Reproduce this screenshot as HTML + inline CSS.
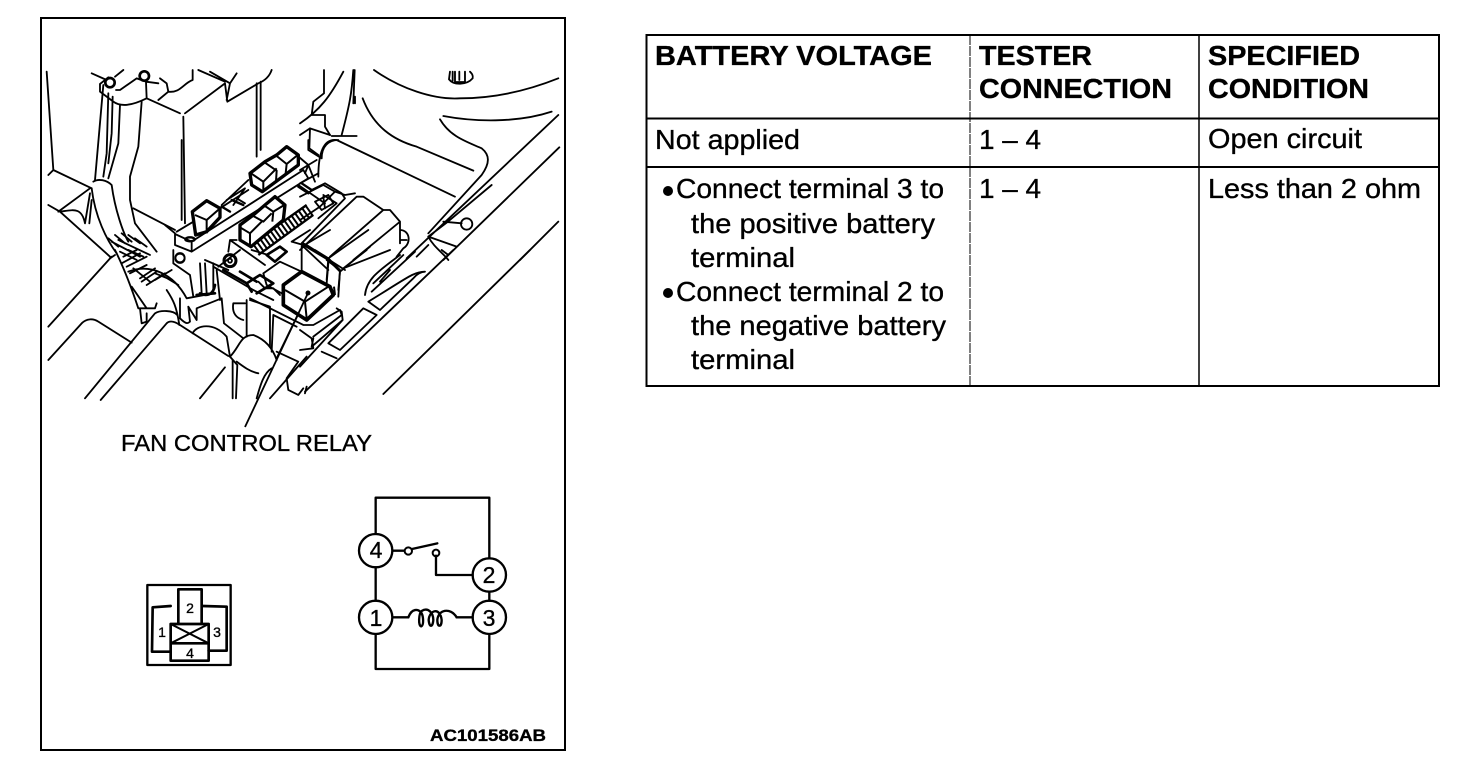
<!DOCTYPE html>
<html><head><meta charset="utf-8"><style>
html,body{margin:0;padding:0;background:#fff;width:1472px;height:784px;overflow:hidden}
svg{display:block}
text{font-family:"Liberation Sans",sans-serif;fill:#000;stroke:#000;stroke-width:.35}
.l path,.l circle,.l ellipse{fill:none;stroke:#000;stroke-width:5.500;stroke-linejoin:round;stroke-linecap:round}
.t path{fill:#fff;stroke:#000;stroke-width:10;stroke-linejoin:round}
.t path.i{fill:none;stroke-width:6}
.h{fill:none;stroke:#000;stroke-width:40;stroke-dasharray:6 7}
</style></head><body>
<svg width="1472" height="784" viewBox="0 0 1472 784" xmlns="http://www.w3.org/2000/svg">
<rect width="1472" height="784" fill="#fff"/>
<rect x="41" y="18" width="524" height="732" fill="none" stroke="#000" stroke-width="2"/>

<!-- upper left -->
<g class="l" transform="translate(40,60) scale(.3333)">
<path d="M20,35 L40,330 L25,345 M40,330 L155,385"/>
<circle cx="210" cy="68" r="14" style="stroke-width:8"/><circle cx="313" cy="48" r="14" style="stroke-width:8"/>
<path d="M155,40 L200,60 M250,30 L225,50 M180,72 L205,52 M180,72 L180,95 L220,125 C240,140 270,140 320,115 L318,65 L290,55 L240,90 L228,90 M318,65 L355,70"/>
<path d="M320,115 L420,160 M355,120 L385,95 L380,70 L360,55 M385,95 C420,100 430,70 458,60 L458,30"/>
<path d="M435,160 L555,70 L562,125 L655,70 C680,60 690,45 695,30 M475,30 L555,65 M510,35 L570,70 L590,40 M570,70 L560,120"/>
<path d="M650,70 L650,290 M662,65 L662,270 M430,170 L435,490 M280,445 L405,510"/>
<path d="M190,75 L165,360 M205,100 L200,280 L190,350 M218,110 L215,220 L205,310 M240,135 L235,250 L205,355 M305,125 L295,260 L270,350 L270,420 L285,490 L350,575"/>
<path d="M160,365 C175,355 200,360 215,375 C225,450 250,520 265,545 M155,385 C165,470 200,540 230,580"/>
<path d="M25,435 L60,455 L210,590 M55,455 L150,385 M60,455 C100,450 125,440 135,490 M150,400 L135,490 M155,420 L148,490"/>
<path d="M205,535 L235,560 M225,525 L255,550 M245,520 L275,545 M265,525 L300,550 M285,535 L320,560 M210,595 L225,585 M240,575 L290,600 M265,570 L310,590 M215,545 L300,590 M235,540 L330,585"/>
</g>

<!-- upper right -->
<g class="l" transform="translate(300,60) scale(.3333)">
<path d="M72,30 L72,100 L40,125 L35,165 L75,165 L75,200 L90,225 M130,35 C90,110 60,150 0,190 M160,30 C155,100 150,130 125,225 M164,30 L160,130 M165,110 L165,130"/>
<path d="M0,225 L30,205 L90,225 M30,205 L28,265 L55,285 M55,350 C55,280 70,235 110,240 L465,410 M95,228 L170,228"/>
<path d="M222,30 C300,85 400,120 480,115 C600,115 700,85 775,55"/>
<path d="M188,115 C220,200 280,240 350,260 L520,332"/>
<path d="M430,168 C520,185 650,190 755,155"/>
<path d="M420,178 C450,230 500,245 545,265 C570,285 570,310 545,345 L385,520"/>
<path d="M775,165 L320,595 M778,262 L430,600 M775,485 L660,600 M575,375 L440,488 L385,530 M350,590 L385,555"/>
<circle cx="500" cy="492" r="17"/>
<path d="M430,485 L485,490 M385,530 L470,560 M385,530 C400,560 430,580 445,600"/>
<path d="M450,35 L447,58 C460,76 500,76 518,55 C520,45 515,40 510,35 M458,35 L458,62 M465,35 L465,66 L495,66 L495,35 M478,35 L478,60"/>
<path d="M0,570 L170,410 L190,410 L250,450 L270,450 L300,485 L300,550 M20,555 L90,600 M250,450 L90,590 M300,485 L160,600 M300,510 C330,510 335,550 310,565 L290,590 M300,540 L320,540"/>
<path d="M0,330 L50,300 M0,370 L55,340 M0,410 L70,375 L105,395 L60,440 M105,395 L135,405 L165,400 M60,440 L0,480 M70,405 L110,430 L55,475"/>
</g>

<!-- lower left -->
<g class="l" transform="translate(40,250) scale(.3333)">
<path d="M215,20 L25,230 M25,330 L125,220 C140,205 160,205 175,215 L275,278"/>
<path d="M135,445 L345,190 C360,180 400,180 412,195 M182,450 L380,220 C390,210 405,215 420,225 L565,318"/>
<path d="M480,445 L555,352 M578,445 L578,330 M588,445 L592,345 L570,320 M690,445 L800,320"/>
<path d="M225,0 C250,50 270,100 295,175 L345,175 L350,160 M300,175 L305,220 L320,215 L320,190 M275,110 L320,175"/>
<path d="M265,65 C330,40 400,70 440,145 L520,130 L520,40 M380,120 C400,150 410,170 418,225 M420,145 L420,205 C440,225 445,220 450,215 L445,170 M445,170 L470,210 L470,175 L545,145 L552,220 L610,265"/>
<path d="M458,250 C470,225 520,215 560,260 L570,320 M400,0 L400,40 L450,75 L460,140 M480,40 L485,130 M495,40 L500,130 M530,60 L540,150 M520,50 L640,120 L700,150 M535,50 L600,0"/>
<circle cx="420" cy="25" r="14"/><circle cx="570" cy="32" r="18" style="stroke-width:9"/><circle cx="570" cy="32" r="6"/>
<path d="M580,160 C575,190 590,205 610,210 M580,160 L615,160 M630,150 L690,170 L690,290 M620,150 L620,260"/>
<path d="M570,320 C600,290 600,255 640,255 C680,270 700,300 710,330 M590,335 C610,350 630,365 655,370 M700,195 L695,305 M700,195 L770,230 M710,305 L775,335 L740,385 L745,420 L775,435 L790,415 M800,410 L795,430 M695,355 C670,370 660,410 650,445"/>
<path d="M250,20 L290,0 M245,40 L300,10 M270,70 L320,45 M305,95 L350,65 M320,105 L375,70 M345,70 L395,90 M260,50 L320,20 M300,85 L345,55 M345,90 L395,60 M365,75 L415,105 M280,55 L330,95"/>
<path d="M480,130 C500,140 520,135 525,105 M470,135 L525,130 M550,60 L620,100 L660,75 L700,100 L650,130 M620,100 L635,125 M600,65 L650,95" style="stroke-width:8"/>
</g>

<!-- lower right -->
<g class="l" transform="translate(300,250) scale(.3333)">
<path d="M690,0 L250,432 M460,0 L15,425 M425,0 L445,15"/>
<path d="M300,15 C240,60 200,85 195,135 M345,5 L215,125 M310,15 L220,100 M270,60 L240,95"/>
<path d="M205,155 L240,180 L340,85 C350,72 365,65 375,65 C340,65 320,85 205,155"/>
<path d="M85,280 L190,175 L230,195 L120,300 Z M65,305 L110,325"/>
<path d="M110,175 L125,185 L128,210 L35,290 L40,265 M0,350 L128,210 M0,240 L35,265 M35,265 L40,295 L0,300"/>
<path d="M270,0 L130,55 M200,0 L130,55 M80,30 L120,60 L115,140 M85,40 L80,100 M45,0 L85,25 L120,60"/>
</g>

<!-- fuse box relays -->
<g class="l" transform="translate(165,140) scale(.3333)">
<path d="M35,275 L85,245 M165,205 L250,150 M30,282 L80,305 L80,335 L30,315 Z M80,305 L415,90 L430,115 L80,335"/>
<ellipse cx="75" cy="298" rx="14" ry="6" style="stroke-width:7"/>
<circle cx="45" cy="353" r="14"/>
<path d="M0,255 L30,280 M50,0 L50,240 M170,195 L250,120 M185,180 L240,145 L205,195 M215,175 L240,190"/>
<path d="M395,45 L430,75 L420,100 M430,75 L450,125 M440,150 L480,130 L530,160 L540,175 L410,310 M400,135 L480,190 M450,185 L490,165 L505,190 L470,210 Z M475,170 L480,205"/>
<path d="M190,335 L195,300 L300,375 M120,360 L190,390 M195,300 L215,300"/>
<path d="M415,310 L540,390 M410,315 L490,390 M260,330 L310,345"/>
<path d="M430,0 L430,30 L470,55 C470,20 490,0 520,0"/>
<path d="M400,140 L430,160 M410,130 L440,150 M170,200 L195,215 M200,180 L235,195" style="stroke-width:7"/>
<path d="M305,345 L345,320 L365,335 L330,365 Z" style="stroke-width:8"/>
</g>
<g transform="translate(165,140) scale(.3333)">
<path class="h" d="M270,325 L440,205"/>
<path d="M265,308 L425,195 M280,345 L445,225" fill="none" stroke="#000" stroke-width="7"/>
</g>
<g class="t" transform="translate(165,140) scale(.3333)">
<path d="M82,215 L125,182 L165,205 L165,232 L125,275 L92,285 Z"/>
<path class="i" d="M90,225 L125,240 L165,205 M125,240 L125,280"/>
<path d="M255,100 L300,65 L335,45 L365,20 L400,45 L400,75 L292,155 L260,135 Z"/>
<path class="i" d="M258,100 L295,125 L335,85 M295,125 L295,150 M300,68 L335,92 L333,125 M335,48 L365,72 L362,100 M365,72 L398,45"/>
<path d="M225,255 L265,225 L300,195 L330,170 L360,195 L355,240 L258,320 L225,300 Z"/>
<path class="i" d="M225,262 L255,280 L290,245 M255,280 L255,320 M265,228 L295,245 L320,220 M300,198 L325,215 L358,195 M325,215 L322,245"/>
</g>

<!-- fan relay -->
<g class="l" transform="translate(190,230) scale(.3333)">
<path d="M220,130 L270,95 L335,125 M220,130 L230,165 L275,190 M205,155 L225,175 L250,175 L270,195 M180,205 L340,285 L370,285 L450,240 L455,255 L370,320"/>
<path d="M335,50 L335,120 M415,85 L410,150 M450,125 L445,180 M305,35 L340,45 L415,90 L450,125 M335,50 L420,0 M415,85 L535,0 M450,125 L540,50 M305,35 L360,0"/>
<path d="M355,190 L260,385"/>
</g>
<g class="t" transform="translate(190,230) scale(.3333)">
<path d="M280,165 L335,125 L420,170 L430,195 L350,270 L280,225 Z" style="stroke-width:11"/>
<path class="i" d="M285,180 L345,215 L415,170 M345,215 L350,265 M432,170 L435,195"/>
</g>
<path d="M308,293 L245,427" stroke="#000" stroke-width="1.8" fill="none"/>
<circle cx="308" cy="293" r="2.500" fill="#000"/>

<text x="121" y="451" font-size="23" textLength="251" lengthAdjust="spacingAndGlyphs">FAN CONTROL RELAY</text>

<!-- connector -->
<g class="l" transform="translate(130,570) scale(.3333)">
<path d="M52,45 L302,45 L302,285 L52,285 Z" style="stroke-width:7"/>
<path d="M122,108 L68,112 L66,245 L122,245 M218,108 L290,110 L290,242 L236,242" style="stroke-width:8"/>
<path d="M145,160 L145,58 L215,58 L215,160" style="stroke-width:8"/>
<path d="M122,162 L236,162 L236,272 L122,272 Z M122,220 L236,220" style="stroke-width:8"/>
<path d="M122,162 L236,220 M236,162 L122,220" style="stroke-width:6"/>
</g>
<g font-size="14" text-anchor="middle">
<text x="190" y="613">2</text>
<text x="162" y="637">1</text>
<text x="217" y="637">3</text>
<text x="190" y="658">4</text>
</g>

<!-- circuit -->
<g class="l" transform="translate(350,485) scale(.3333)">
<path d="M77,147 L77,38 L418,38 L418,220 M77,247 L77,347 M77,447 L77,552 L418,552 L418,447 M418,320 L418,347" style="stroke-width:7"/>
<path d="M128,197 L162,197 M186,192 L262,175 M258,212 L258,270 L368,270 M128,397 L175,397 M320,397 L368,397" style="stroke-width:7"/>
<circle cx="175" cy="198" r="11" style="stroke-width:6"/>
<circle cx="258" cy="204" r="10" style="stroke-width:6"/>
<path d="M175,397 C185,370 205,370 215,385 C220,395 222,420 214,424 C204,424 206,385 215,378 C235,365 250,385 250,405 C248,428 238,428 236,405 C238,375 270,365 275,405 C275,428 262,428 262,405 C264,375 300,365 320,397" style="stroke-width:7"/>
<circle cx="77" cy="197" r="50" style="stroke-width:7"/>
<circle cx="418" cy="270" r="50" style="stroke-width:7"/>
<circle cx="77" cy="397" r="50" style="stroke-width:7"/>
<circle cx="418" cy="397" r="50" style="stroke-width:7"/>
</g>
<g font-size="23" text-anchor="middle">
<text x="376" y="558">4</text><text x="489" y="583">2</text><text x="376" y="626">1</text><text x="489" y="626">3</text>
</g>

<text x="430" y="741" font-size="17" font-weight="bold" textLength="116" lengthAdjust="spacingAndGlyphs">AC101586AB</text>

<!-- table -->
<rect x="646.5" y="35" width="792.5" height="351" fill="none" stroke="#000" stroke-width="2"/>
<path d="M646,118.500 H1439 M646,167 H1439" stroke="#000" stroke-width="2" fill="none"/>
<path d="M970,35 V386" stroke="#000" stroke-width="1" fill="none" stroke-dasharray="10 1"/>
<path d="M1199,35 V386" stroke="#000" stroke-width="1.500" fill="none"/>

<g font-size="28" font-weight="bold">
<text x="655" y="65" textLength="277" lengthAdjust="spacingAndGlyphs">BATTERY VOLTAGE</text>
<text x="979" y="65" textLength="113" lengthAdjust="spacingAndGlyphs">TESTER</text>
<text x="979" y="98" textLength="193" lengthAdjust="spacingAndGlyphs">CONNECTION</text>
<text x="1208" y="65" textLength="152" lengthAdjust="spacingAndGlyphs">SPECIFIED</text>
<text x="1208" y="98" textLength="161" lengthAdjust="spacingAndGlyphs">CONDITION</text>
</g>
<g font-size="28">
<text x="655" y="149" textLength="145" lengthAdjust="spacingAndGlyphs">Not applied</text>
<text x="979" y="149" textLength="62" lengthAdjust="spacingAndGlyphs">1 – 4</text>
<text x="1208" y="148" textLength="154" lengthAdjust="spacingAndGlyphs">Open circuit</text>
<text x="676" y="198" textLength="268" lengthAdjust="spacingAndGlyphs">Connect terminal 3 to</text>
<text x="979" y="198" textLength="62" lengthAdjust="spacingAndGlyphs">1 – 4</text>
<text x="1208" y="198" textLength="213" lengthAdjust="spacingAndGlyphs">Less than 2 ohm</text>
<text x="691" y="233" textLength="244" lengthAdjust="spacingAndGlyphs">the positive battery</text>
<text x="691" y="267" textLength="104" lengthAdjust="spacingAndGlyphs">terminal</text>
<text x="676" y="301" textLength="268" lengthAdjust="spacingAndGlyphs">Connect terminal 2 to</text>
<text x="691" y="335" textLength="255" lengthAdjust="spacingAndGlyphs">the negative battery</text>
<text x="691" y="369" textLength="104" lengthAdjust="spacingAndGlyphs">terminal</text>
</g>
<circle cx="668" cy="191" r="5" fill="#000"/>
<circle cx="668" cy="293" r="5" fill="#000"/>
</svg>
</body></html>
